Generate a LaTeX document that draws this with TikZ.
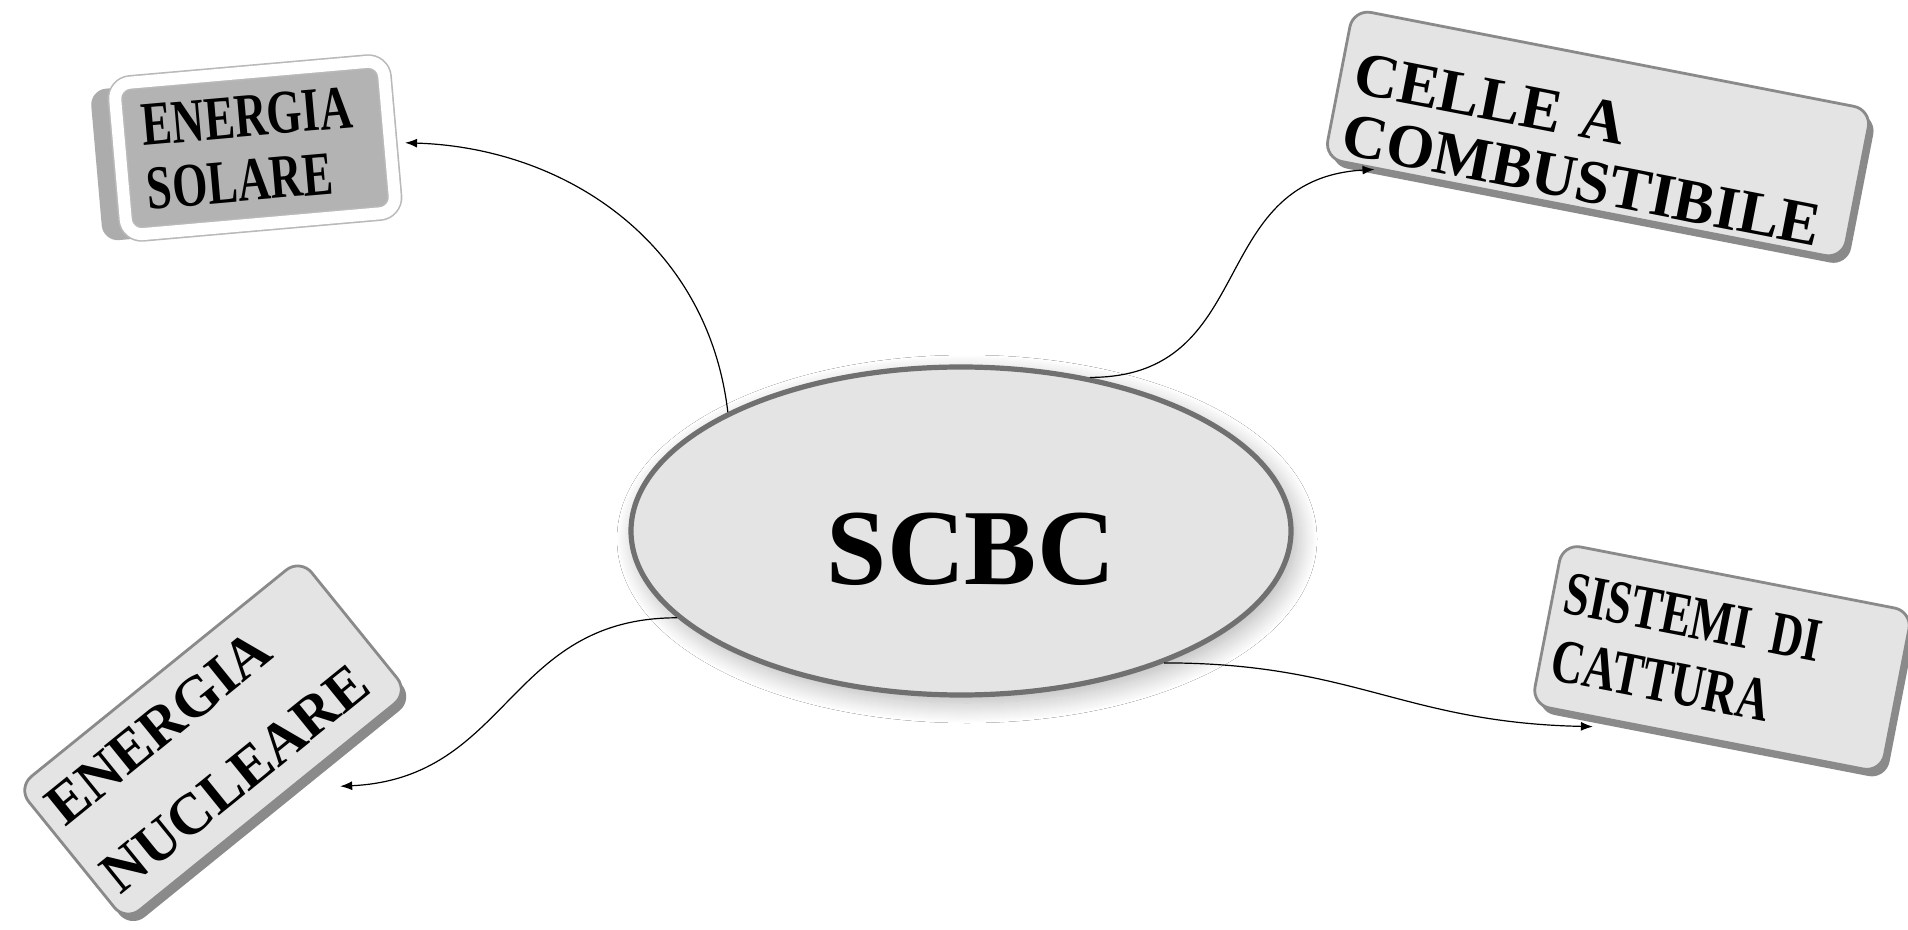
\documentclass[tikz,border=0pt]{standalone}
\usepackage{fontspec}
\setmainfont{Liberation Serif}
\newfontfamily\narrowserif{Liberation Serif}[FakeStretch=0.73]
\usetikzlibrary{shapes.geometric,shadows,shadows.blur,arrows.meta}
\definecolor{facegray}{HTML}{E4E4E4}
\definecolor{rimgray}{HTML}{8A8A8A}
\definecolor{platgray}{HTML}{B3B3B3}
\definecolor{edgegray}{HTML}{707070}

\begin{document}
\begin{tikzpicture}[x=0.5pt,y=-0.5pt,
	hubnode/.style={ellipse, draw=edgegray, line width=2.6pt, fill=facegray,
		minimum width=330pt, minimum height=164pt, inner sep=0pt,
		font=\bfseries\fontsize{54}{54}\selectfont, text height=54pt, text depth=0pt,
		blur shadow={shadow xshift=3pt, shadow yshift=-4pt, shadow blur radius=10pt,
			shadow blur steps=20, shadow opacity=30}},
	keybox/.style={rectangle, draw=rimgray, line width=1.4pt, fill=facegray, rounded corners=9pt,
		align=left, inner xsep=6pt,
		drop shadow={shadow xshift=2.5pt, shadow yshift=-3.5pt, fill=rimgray, opacity=1}},
	platebox/.style={rectangle, draw=gray!55, line width=0.8pt, double=white, double distance=6pt,
		fill=platgray, rounded corners=8pt, align=left, inner xsep=12pt, outer sep=7.5pt,
		minimum width=135pt, minimum height=76pt, text width=111pt,
		font=\narrowserif\bfseries\fontsize{31}{32}\selectfont,
		drop shadow={shadow xshift=-12pt, shadow yshift=-3pt, fill=gray!65, opacity=1}},
	link/.style={-{Latex[length=6pt,width=4.5pt]}, line width=0.6pt, black}]
	% Fixed white canvas in pixel units of the source image.
	\path[use as bounding box] (0,0) rectangle (1908,930);
	\fill[white] (0,0) rectangle (1908,930);

	% Central topic.
	\node[hubnode] (hub) at (961,531) {\hspace*{10pt}SCBC};

	% The four branches, each a tilted key.
	\node[platebox, rotate=5] (solare) at (255,148) {ENERGIA\\SOLARE};
	\node[keybox, rotate=-11, minimum width=264pt, minimum height=74pt, text width=250pt,
		font=\bfseries\fontsize{31}{31}\selectfont] (celle) at (1598,134)
		{\rule{0pt}{38pt}CELLE A\\COMBUSTIBILE};
	\node[keybox, rotate=39, minimum width=180pt, minimum height=86pt, text width=170pt,
		outer sep=15pt, font=\bfseries\fontsize{29}{44}\selectfont] (nucleare) at (213,740)
		{ENERGIA\\NUCLEARE};
	\node[keybox, rotate=-11, minimum width=178pt, minimum height=82pt, text width=166pt,
		outer sep=5pt, font=\narrowserif\bfseries\fontsize{31}{34}\selectfont] (sistemi) at (1722,658)
		{SISTEMI DI\\CATTURA};

	% Curved links from the hub out to every key.
	\draw[link] (hub.153) .. controls +(-20,-170) and +(160,5) .. (solare.-3);
	\draw[link] (hub.50) .. controls +(170,0) and +(-170,10) .. (celle.200);
	\draw[link] (hub.197) .. controls +(-170,0) and +(170,-8) .. (nucleare.-59);
	\draw[link] (hub.-33) .. controls +(190,0) and +(-190,-4) .. (sistemi.219);
\end{tikzpicture}
\end{document}
